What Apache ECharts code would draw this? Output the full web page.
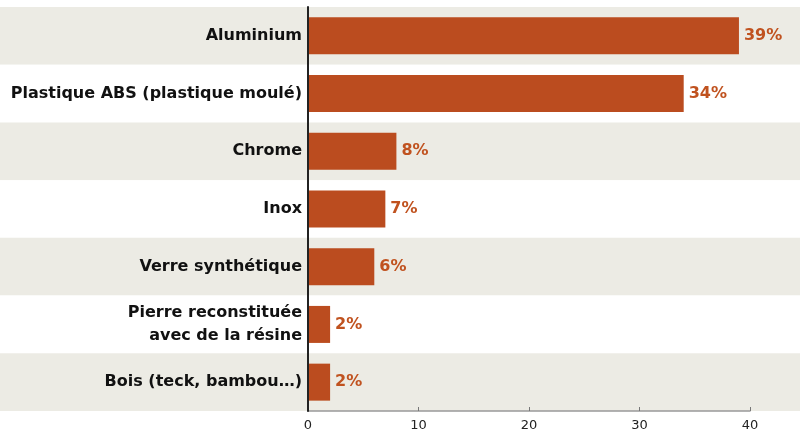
<!DOCTYPE html>
<html>
<head>
<meta charset="utf-8">
<script src="https://cdn.jsdelivr.net/npm/echarts@6/dist/echarts.min.js"></script>
<style>
html,body{margin:0;padding:0;background:#fff;}
#c{width:800px;height:443px;}
</style>
</head>
<body>
<div id="c"></div>
<script>
const categories = ['Aluminium', 'Plastique ABS (plastique moulé)', 'Chrome', 'Inox', 'Verre synthétique', 'Pierre reconstituée\navec de la résine', 'Bois (teck, bambou…)'];
const values = [39, 34, 8, 7, 6, 2, 2];
const xTicks = { min: 0, max: 40, interval: 10 };

const chart = echarts.init(document.getElementById('c'), null, { renderer: 'canvas' });
const font = 'DejaVu Sans';
chart.setOption({
  animation: false,
  backgroundColor: '#ffffff',
  grid: [
    { left: 308, right: 50, top: 7, bottom: 32 },
    { left: 0, right: 0, top: 7, bottom: 32, z: 0 }
  ],
  xAxis: [
    {
      gridIndex: 0, type: 'value', min: xTicks.min, max: xTicks.max, interval: xTicks.interval,
      axisLine: { show: true, lineStyle: { color: '#999999', width: 1.5 } },
      axisTick: { show: true, inside: true, length: 4, lineStyle: { color: '#777' } },
      splitLine: { show: false },
      axisLabel: { color: '#222', fontFamily: font, fontSize: 13, margin: 8 }
    },
    { gridIndex: 1, type: 'value', show: false }
  ],
  yAxis: [
    {
      gridIndex: 0, type: 'category', inverse: true, data: categories, z: 5,
      axisLine: { show: true, lineStyle: { color: '#222', width: 2 } },
      axisTick: { show: false },
      axisLabel: { color: '#111', fontFamily: font, fontWeight: 'bold', fontSize: 16, margin: 6, lineHeight: 23, align: 'right' }
    },
    {
      gridIndex: 1, type: 'category', inverse: true, data: categories,
      axisLine: { show: false }, axisTick: { show: false }, axisLabel: { show: false },
      splitArea: { show: true, areaStyle: { color: ['#ecebe4', '#ffffff'] } }
    }
  ],
  series: [{
    type: 'bar', xAxisIndex: 0, yAxisIndex: 0, data: values, barWidth: 37,
    itemStyle: { color: '#bb4c1f' },
    label: { show: true, position: 'right', distance: 5, formatter: '{c}%', color: '#c0521f', fontFamily: font, fontWeight: 'bold', fontSize: 16 }
  }]
});
</script>
</body>
</html>
